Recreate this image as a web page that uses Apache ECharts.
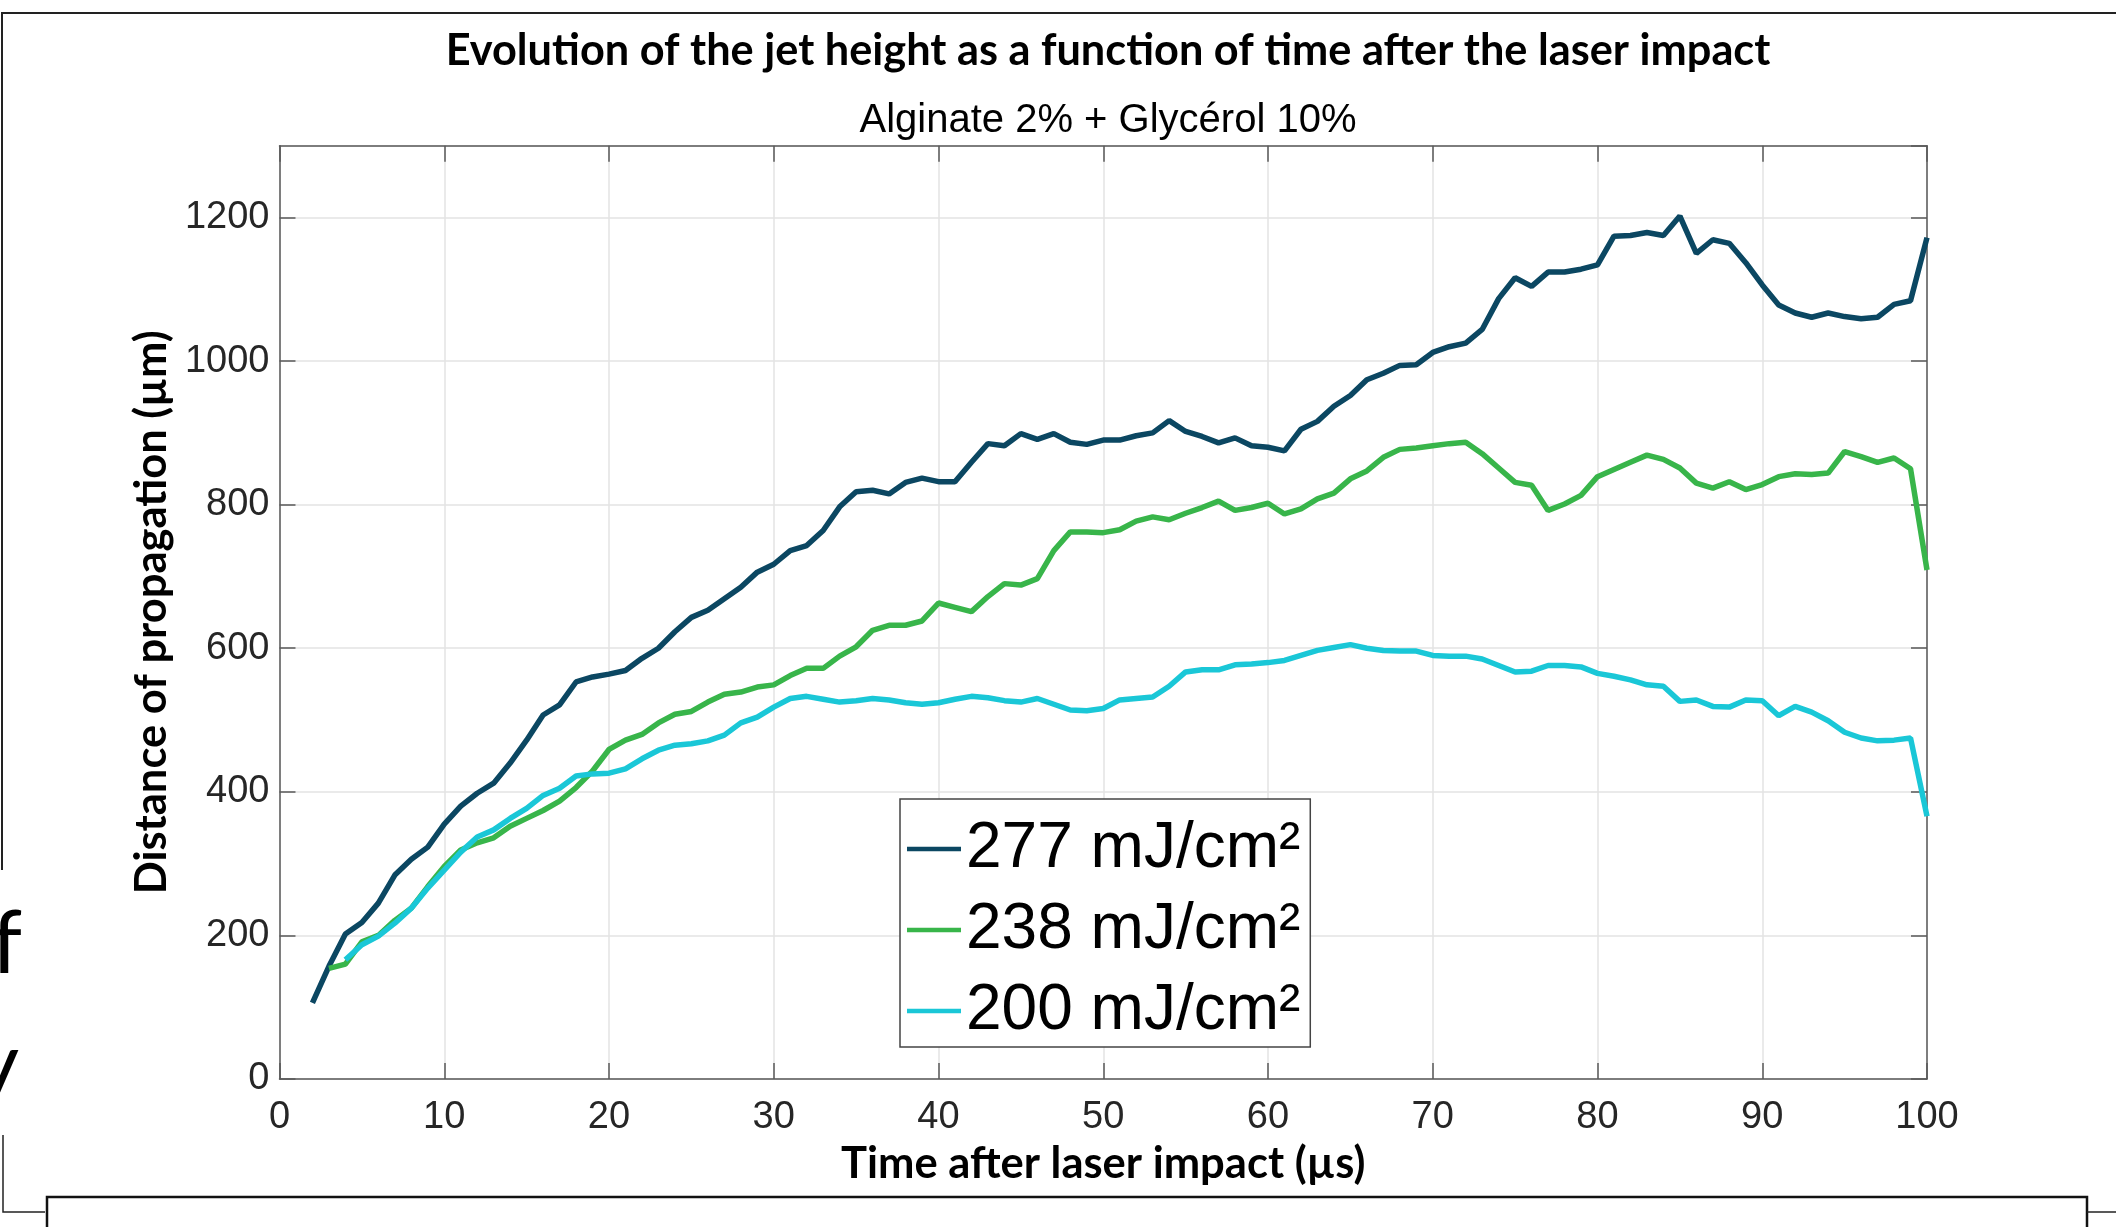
<!DOCTYPE html>
<html>
<head>
<meta charset="utf-8">
<script src="https://cdn.jsdelivr.net/npm/echarts@6/dist/echarts.min.js"></script>
<style>
html,body{margin:0;padding:0;background:#fff;}
#chart{width:2116px;height:1227px;}
</style>
</head>
<body>
<div id="chart"></div>
<script>
// time after laser impact (µs)
const time = [2,3,4,5,6,7,8,9,10,11,12,13,14,15,16,17,18,19,20,21,22,23,24,25,26,27,28,29,30,31,32,33,34,35,36,37,38,39,40,41,42,43,44,45,46,47,48,49,50,51,52,53,54,55,56,57,58,59,60,61,62,63,64,65,66,67,68,69,70,71,72,73,74,75,76,77,78,79,80,81,82,83,84,85,86,87,88,89,90,91,92,93,94,95,96,97,98,99,100];
// 277 mJ/cm²
const d277 = [106,157,202,218,245,284,306,323,355,380,398,412,440,472,507,521,553,560,564,569,586,600,623,643,653,669,685,706,717,736,743,764,797,818,820,815,831,837,832,832,859,885,882,899,891,899,887,884,890,890,896,900,917,902,895,886,893,882,880,875,905,916,937,952,974,983,994,995,1012,1020,1025,1044,1087,1116,1104,1124,1124,1128,1134,1174,1175,1179,1175,1202,1150,1169,1164,1137,1106,1078,1067,1061,1067,1062,1059,1061,1079,1084,1172];
// 238 mJ/cm²
const d238 = [null,154,160,191,200,221,238,268,296,319,329,336,352,363,374,387,406,429,459,472,480,496,508,512,525,536,539,546,549,562,572,572,589,602,625,632,632,638,663,657,651,672,690,688,697,736,762,762,761,765,777,783,779,788,796,805,792,796,802,787,794,808,816,836,847,866,877,879,882,885,887,871,851,831,827,792,801,813,839,849,859,869,863,851,830,823,832,821,828,839,843,842,844,874,867,859,865,850,709];
// 200 mJ/cm²
const d200 = [null,null,166,187,199,217,238,266,291,316,337,347,363,377,395,405,422,425,426,432,446,458,465,467,471,479,496,504,518,530,533,529,525,527,530,528,524,522,524,529,533,531,527,525,530,522,514,513,516,528,530,532,547,567,570,570,577,578,580,583,590,597,601,605,600,597,596,596,590,589,589,585,576,567,568,576,576,574,565,561,556,549,547,526,528,519,518,528,527,506,519,511,499,483,475,471,472,475,366];

const seriesNames = ['277 mJ/cm²', '238 mJ/cm²', '200 mJ/cm²'];
const seriesColors = ['#0b4762', '#38b54a', '#1ac7d7'];
const xTicks = [0,10,20,30,40,50,60,70,80,90,100];
const yTicks = [0,200,400,600,800,1000,1200];

function pairs(vals){ const out=[]; for(let i=0;i<time.length;i++){ if(vals[i]!==null) out.push([time[i], vals[i]]); } return out; }

const chart = echarts.init(document.getElementById('chart'), null, {renderer:'canvas'});
const tickFont = {fontFamily:'Liberation Sans', fontSize:38, color:'#262626'};
const axisLineStyle = {color:'#5a5a5a', width:1.5};
const tickStyle = {show:true, inside:true, length:16, lineStyle:{color:'#5a5a5a', width:1.5}};

const option = {
  backgroundColor:'#fff',
  animation:false,
  title:[
    {text:'Evolution of the jet height as a function of time after the laser impact', left:1103, top:25, textAlign:'center', padding:5,
     textStyle:{fontFamily:'Lato', fontWeight:'bold', fontSize:43.3, color:'#000'}},
    {text:'Alginate 2% + Glycérol 10%', left:1103, top:96, textAlign:'center', padding:5,
     textStyle:{fontFamily:'Liberation Sans', fontWeight:'normal', fontSize:40, color:'#000'}}
  ],
  grid:{left:279.5, right:189, top:145.7, bottom:148, containLabel:false},
  legend:{
    orient:'vertical', left:900, top:799, width:406,
    data:seriesNames.map(n=>({name:n, icon:'rect'})),
    itemWidth:54, itemHeight:4.5, itemGap:17,
    padding:[18,10,4,7],
    borderColor:'#444', borderWidth:1.5, backgroundColor:'#fff',
    textStyle:{fontFamily:'Liberation Sans', fontSize:64, color:'#000'}
  },
  xAxis:[
    {type:'value', min:0, max:100, interval:10, position:'bottom',
     name:'Time after laser impact (µs)', nameLocation:'middle', nameGap:63,
     nameTextStyle:{fontFamily:'Lato', fontWeight:'bold', fontSize:43.5, color:'#000'},
     axisLine:{show:true, onZero:false, lineStyle:axisLineStyle},
     axisTick:tickStyle,
     axisLabel:{show:true, margin:20, ...tickFont, formatter:v=>xTicks.includes(v)?String(v):''},
     splitLine:{show:true, lineStyle:{color:'#e3e3e3', width:1.5}}},
    {type:'value', min:0, max:100, interval:10, position:'top',
     axisLine:{show:true, onZero:false, lineStyle:axisLineStyle},
     axisTick:tickStyle,
     axisLabel:{show:false}, splitLine:{show:false}}
  ],
  yAxis:[
    {type:'value', min:0, max:1300, interval:200, position:'left',
     name:'Distance of propagation (µm)', nameLocation:'middle', nameGap:106, nameRotate:90,
     nameTextStyle:{fontFamily:'Lato', fontWeight:'bold', fontSize:43.5, color:'#000'},
     axisLine:{show:true, onZero:false, lineStyle:axisLineStyle},
     axisTick:tickStyle,
     axisLabel:{show:true, margin:10, showMaxLabel:false, ...tickFont, formatter:v=>yTicks.includes(v)?String(v):''},
     splitLine:{show:true, lineStyle:{color:'#e3e3e3', width:1.5}}},
    {type:'value', min:0, max:1300, interval:200, position:'right',
     axisLine:{show:true, onZero:false, lineStyle:axisLineStyle},
     axisTick:tickStyle,
     axisLabel:{show:false}, splitLine:{show:false}}
  ],
  series:[d277, d238, d200].map((vals, i)=>({
    name:seriesNames[i], type:'line', xAxisIndex:0, yAxisIndex:0,
    data:pairs(vals), symbol:'none', smooth:false,
    lineStyle:{color:seriesColors[i], width:5.5},
    itemStyle:{color:seriesColors[i]}
  })),
  graphic:[
    {type:'polyline', silent:true, shape:{points:[[2,870],[2,13],[2116,13]]}, style:{stroke:'#222', lineWidth:2, fill:null}},
    {type:'polyline', silent:true, shape:{points:[[3,1135],[3,1212],[45,1212]]}, style:{stroke:'#222', lineWidth:1.5, fill:null}},
    {type:'polyline', silent:true, shape:{points:[[47,1227],[47,1197],[2087,1197],[2087,1227]]}, style:{stroke:'#111', lineWidth:2.5, fill:null}},
    {type:'polyline', silent:true, shape:{points:[[2087,1212],[2116,1212]]}, style:{stroke:'#222', lineWidth:1.5, fill:null}},
    {type:'text', silent:true, style:{text:'f', x:22, y:945, textAlign:'right', textVerticalAlign:'middle', font:'88px Lato', fill:'#000'}},
    {type:'text', silent:true, style:{text:'y', x:19, y:1066, textAlign:'right', textVerticalAlign:'middle', font:'88px Lato', fill:'#000'}}
  ]
};
chart.setOption(option);
</script>
</body>
</html>
